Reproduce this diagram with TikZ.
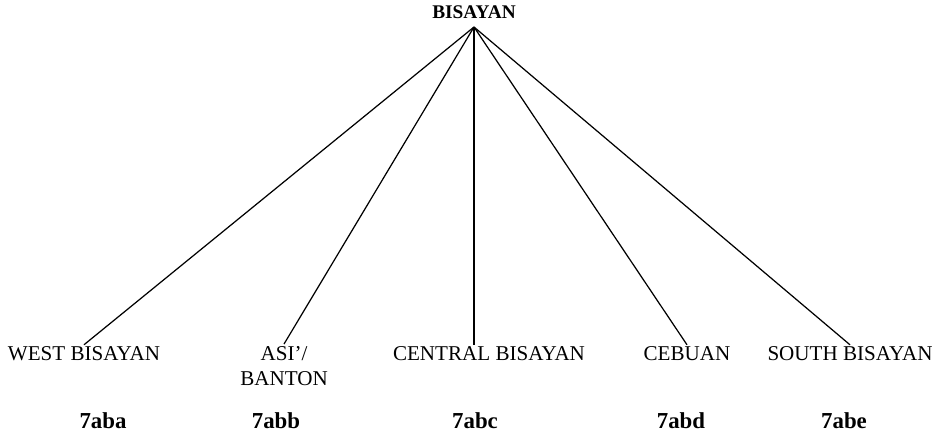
\documentclass[tikz,border=0pt]{standalone}
\usepackage{fontspec}
\setmainfont{Liberation Serif}
\usetikzlibrary{positioning}

\begin{document}
\begin{tikzpicture}[x=0.02cm, y=-0.02cm,
    lang/.style={font=\fontsize{12}{14.5}\selectfont, inner sep=1pt, align=center},
    code/.style={font=\fontsize{13}{15}\selectfont\bfseries, inner sep=1pt},
    branch/.style={line width=0.7pt}]
  \useasboundingbox (0,0) rectangle (943,437);
  % root of the tree
  \node[font=\fontsize{11}{13}\selectfont\bfseries, inner sep=1pt] (bisayan) at (474,12) {BISAYAN};
  \coordinate (apex) at (474,27);
  % subgroups
  \node[lang] (west) at (84,354) {WEST BISAYAN};
  \node[lang] (asi) at (284,366) {ASI'/\\BANTON};
  \node[lang] (central) at (489,354) {CENTRAL BISAYAN};
  \node[lang] (cebuan) at (687,354) {CEBUAN};
  \node[lang] (south) at (850,354) {SOUTH BISAYAN};
  % classification codes
  \node[code] (c-west) at (103,421) {7aba};
  \node[code] (c-asi) at (276,421) {7abb};
  \node[code] (c-central) at (475,421) {7abc};
  \node[code] (c-cebuan) at (681,421) {7abd};
  \node[code] (c-south) at (844,421) {7abe};
  % branches
  \foreach \n in {west, asi, cebuan, south}
    \draw[branch] (apex) -- (\n.north);
  \draw[branch] (apex) -- (central.north -| apex);
\end{tikzpicture}
\end{document}
